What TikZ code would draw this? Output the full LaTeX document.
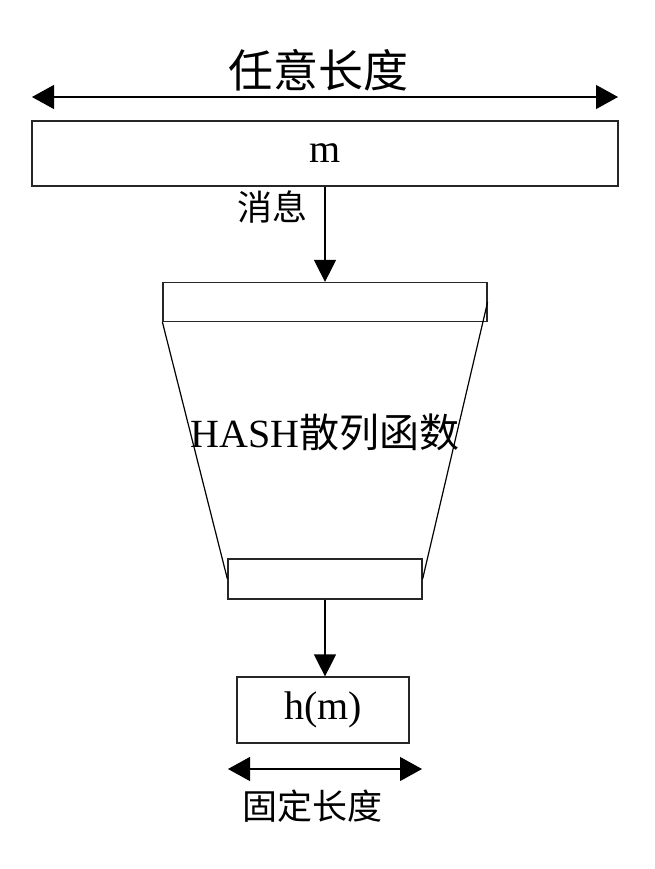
\documentclass[tikz,border=0pt]{standalone}
\usepackage{fontspec}
\setmainfont{Liberation Serif}
\newfontfamily\cjk{Noto Sans CJK SC}
\usetikzlibrary{arrows.meta}
\begin{document}
\begin{tikzpicture}[x=1pt,y=-1pt,
  box/.style={draw=black!85,line width=1.2pt,inner sep=0pt,fill=white},
  conn/.style={draw=black,line width=1.2pt},
  harrow/.style={conn,{Triangle[length=22pt,width=24pt,fill=black]}-{Triangle[length=22pt,width=24pt,fill=black]}},
  varrow/.style={conn,-{Triangle[length=22pt,width=22pt,fill=black]}},
  lat/.style={font=\fontsize{40}{40}\selectfont},
  cjkbig/.style={font=\cjk\fontsize{45}{45}\selectfont},
  cjksmall/.style={font=\cjk\fontsize{35}{35}\selectfont}]
\useasboundingbox (0,0) rectangle (655,869);
% top dimension
\coordinate (tl) at (32,97);
\coordinate (tr) at (618,97);
\draw[harrow] (tl) -- (tr);
\node[cjkbig] (any) at (318,70) {任意长度};
% message box
\node[box,minimum width=586pt,minimum height=65pt,lat] (m) at (325,153.5) {m};
\node[cjksmall,anchor=center] (msg) at (272,207) {消息};
% hash funnel
\node[box,minimum width=324pt,minimum height=39pt] (up) at (325,302) {};
\node[box,minimum width=194pt,minimum height=40pt] (lo) at (325,579) {};
\draw[conn] (up.south west) -- (lo.west);
\draw[conn] (up.east) -- (lo.east);
\node[font=\fontsize{40}{40}\selectfont] (hash) at (325,432) {HASH{\cjk 散列函数}};
\draw[varrow] (m.south -| up.north) -- (up.north);
% output
\node[box,minimum width=172pt,minimum height=66pt,lat] (h) at (323,710) {h(m)};
\draw[varrow] (lo.south) -- (lo.south |- h.north);
\coordinate (bl) at (228,769);
\coordinate (br) at (422,769);
\draw[harrow] (bl) -- (br);
\node[cjksmall] (fix) at (312,806) {固定长度};
\end{tikzpicture}
\end{document}
